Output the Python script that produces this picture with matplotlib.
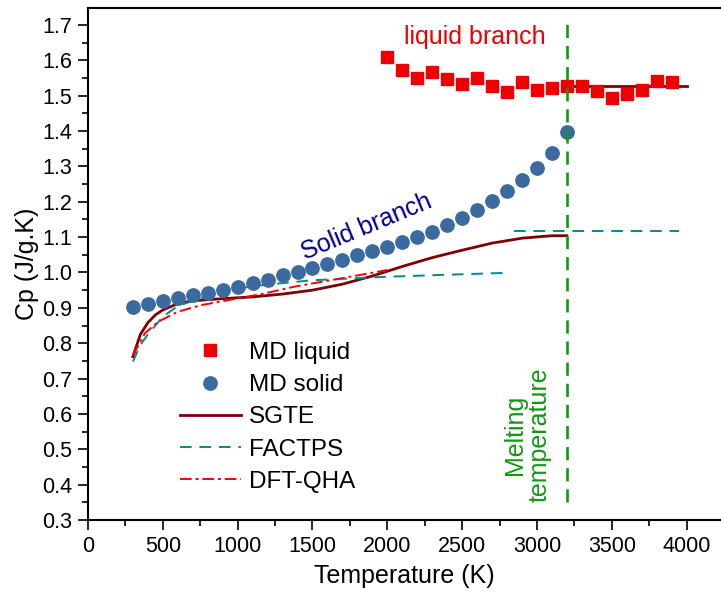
import matplotlib
matplotlib.use("Agg")
import matplotlib.pyplot as plt
from matplotlib.ticker import MultipleLocator

plt.rcParams["font.family"] = ["Liberation Sans", "DejaVu Sans"]

# MD data
T_solid = list(range(300, 3201, 100))
cp_solid = [0.901, 0.911, 0.919, 0.927, 0.935, 0.942, 0.950, 0.960, 0.969, 0.979,
            0.992, 1.000, 1.012, 1.023, 1.035, 1.049, 1.062, 1.073, 1.085, 1.100,
            1.115, 1.133, 1.153, 1.176, 1.202, 1.231, 1.262, 1.296, 1.339, 1.398]
T_liquid = list(range(2000, 3901, 100))
cp_liquid = [1.609, 1.573, 1.550, 1.567, 1.547, 1.532, 1.549, 1.527, 1.510, 1.538,
             1.515, 1.522, 1.528, 1.528, 1.512, 1.494, 1.505, 1.515, 1.541, 1.539]

# SGTE
T_sgte = [300, 350, 400, 450, 500, 600, 700, 800, 900, 1100, 1300, 1500, 1700,
          1900, 2100, 2300, 2500, 2700, 2900, 3100, 3200]
cp_sgte = [0.762, 0.825, 0.858, 0.880, 0.894, 0.912, 0.920, 0.923, 0.926, 0.931,
           0.939, 0.950, 0.967, 0.990, 1.017, 1.042, 1.063, 1.083, 1.097, 1.104, 1.104]
T_sgte_liq = [3200, 4000]
cp_sgte_liq = [1.527, 1.527]

# FACTPS
T_fact = [300, 350, 400, 450, 500, 600, 700, 800, 900, 1000, 1200, 1500, 2000, 2500, 2800]
cp_fact = [0.748, 0.795, 0.825, 0.850, 0.875, 0.905, 0.920, 0.934, 0.946, 0.955,
           0.966, 0.978, 0.988, 0.995, 0.999]
T_fact_liq = [2850, 3950]
cp_fact_liq = [1.118, 1.118]

# DFT-QHA
T_qha = [300, 380, 470, 600, 760, 940, 1160, 1380, 1700, 2000]
cp_qha = [0.765, 0.828, 0.861, 0.889, 0.908, 0.922, 0.939, 0.960, 0.984, 1.007]

T_melt = 3200

fig = plt.figure(figsize=(7.21, 5.99), dpi=100)
ax = fig.add_axes([88 / 721, 79 / 599, 633 / 721, 512 / 599])

ax.plot(T_liquid, cp_liquid, "s", color="#ee0000", markersize=8.2, label="MD liquid", zorder=4)
ax.plot(T_solid, cp_solid, "o", color="#3a6aa0", markersize=9.6, label="MD solid", zorder=4)
ax.plot(T_sgte, cp_sgte, "-", color="#800000", lw=2.0, label="SGTE", zorder=3)
ax.plot(T_sgte_liq, cp_sgte_liq, "-", color="#800000", lw=2.0, zorder=3)
ax.plot(T_fact, cp_fact, "--", color="#008b8b", lw=1.4, dashes=(6, 4), label="FACTPS", zorder=3)
ax.plot(T_fact_liq, cp_fact_liq, "--", color="#008b8b", lw=1.4, dashes=(6, 4), zorder=3)
ax.plot(T_qha, cp_qha, "-.", color="#ff0000", lw=1.4, dashes=(6, 2, 1.5, 2), label="DFT-QHA", zorder=3)
ax.plot([T_melt, T_melt], [0.35, 1.705], color="#119911", lw=1.9, dashes=(5, 3), zorder=5)

ax.text(2585, 1.666, "liquid branch", color="#ee0000", fontsize=18, ha="center", va="center")
ax.text(1860, 1.13, "Solid branch", color="#00008b", fontsize=18, ha="center", va="center",
        rotation=22.5)
ax.text(2935, 0.54, "Melting\ntemperature", color="#119911", fontsize=18, ha="center",
        va="center", rotation=90, multialignment="center", linespacing=1.0)

ax.set_xlim(0, 4230)
ax.set_ylim(0.3, 1.748)
ax.xaxis.set_major_locator(MultipleLocator(500))
ax.xaxis.set_minor_locator(MultipleLocator(250))
ax.yaxis.set_minor_locator(MultipleLocator(0.05))
ax.set_yticks([0.3 + 0.1 * i for i in range(15)])
ax.set_yticklabels([f"{0.3 + 0.1 * i:.1f}" for i in range(15)])
ax.tick_params(which="major", direction="out", length=7.5, width=1.2, labelsize=15.5, pad=4)
ax.tick_params(which="minor", direction="out", length=4, width=1.2)
ax.spines["right"].set_visible(False)
for s in ["left", "bottom", "top"]:
    ax.spines[s].set_linewidth(1.5)

ax.set_xlabel("Temperature (K)", fontsize=18, labelpad=5)
ax.set_ylabel("Cp (J/g.K)", fontsize=18, labelpad=2)

ax.legend(loc="upper left", bbox_to_anchor=(0.1453, 0.348), frameon=False, fontsize=17.5,
          handlelength=2.5, handletextpad=0.34, labelspacing=0.42, borderpad=0,
          borderaxespad=0)

fig.savefig("out.png", dpi=100)
